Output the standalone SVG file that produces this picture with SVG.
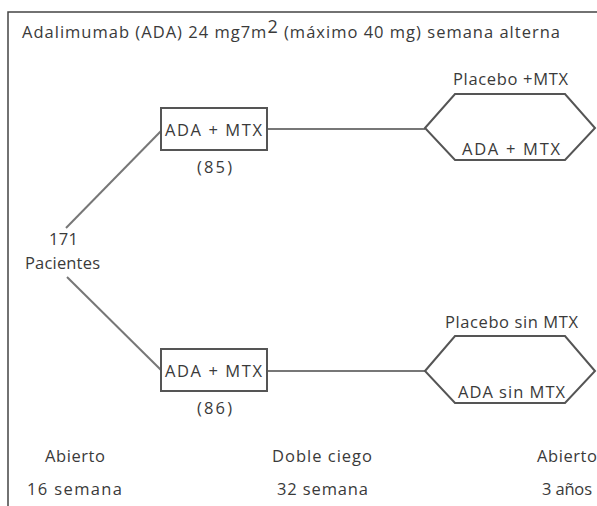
<svg xmlns="http://www.w3.org/2000/svg" width="597" height="506" viewBox="0 0 597 506">
<style>
text{font-family:"Open Sans","Noto Sans","Liberation Sans",sans-serif;font-size:16.5px;fill:#3a3a3a}
.ln{stroke:#777;stroke-width:2;fill:none}
.box{stroke:#555;stroke-width:2;fill:#fff}
</style>
<rect x="0" y="0" width="597" height="506" fill="#fff"/>
<rect x="8" y="12" width="600" height="510" fill="none" stroke="#444" stroke-width="1.5"/>
<text x="22" y="38" textLength="538" lengthAdjust="spacing">Adalimumab (ADA) 24 mg7m<tspan dy="-5" font-size="18">2</tspan><tspan dy="5"> (máximo 40 mg) semana alterna</tspan></text>
<g id="connectors">
<line class="ln" x1="66" y1="228" x2="162" y2="130"/>
<line class="ln" x1="67" y1="277" x2="162" y2="371"/>
<line class="ln" x1="267" y1="129" x2="425" y2="129"/>
<line class="ln" x1="267" y1="371" x2="425" y2="371"/>
</g>
<g id="start">
<text x="49" y="245" font-size="15.5" textLength="29" lengthAdjust="spacing">171</text>
<text x="25" y="269" font-size="15.5" textLength="75" lengthAdjust="spacing">Pacientes</text>
</g>
<g id="box1">
<rect class="box" x="161" y="108" width="106" height="42"/>
<text x="165" y="136" textLength="97" lengthAdjust="spacing">ADA + MTX</text>
<text x="197" y="173" textLength="35" lengthAdjust="spacing">(85)</text>
</g>
<g id="box2">
<rect class="box" x="161" y="349" width="106" height="42"/>
<text x="165" y="377" textLength="97" lengthAdjust="spacing">ADA + MTX</text>
<text x="197" y="414" textLength="35" lengthAdjust="spacing">(86)</text>
</g>
<g id="hex1">
<polygon class="box" points="425,128 455,94 565,94 595,128 565,160 455,160"/>
<text x="453" y="85" textLength="115" lengthAdjust="spacing">Placebo +MTX</text>
<text x="462" y="155" textLength="98" lengthAdjust="spacing">ADA + MTX</text>
</g>
<g id="hex2">
<polygon class="box" points="425,371 455,336 565,336 595,371 565,403 455,403"/>
<text x="445" y="328" textLength="133" lengthAdjust="spacing">Placebo sin MTX</text>
<text x="458" y="398" textLength="107" lengthAdjust="spacing">ADA sin MTX</text>
</g>
<g id="phases">
<text x="45" y="462" textLength="60" lengthAdjust="spacing">Abierto</text>
<text x="27" y="495" textLength="95" lengthAdjust="spacing">16 semana</text>
<text x="272" y="462" textLength="100" lengthAdjust="spacing">Doble ciego</text>
<text x="277" y="495" textLength="91" lengthAdjust="spacing">32 semana</text>
<text x="537" y="462" textLength="60" lengthAdjust="spacing">Abierto</text>
<text x="542" y="495" textLength="50" lengthAdjust="spacing">3 años</text>
</g>
</svg>
